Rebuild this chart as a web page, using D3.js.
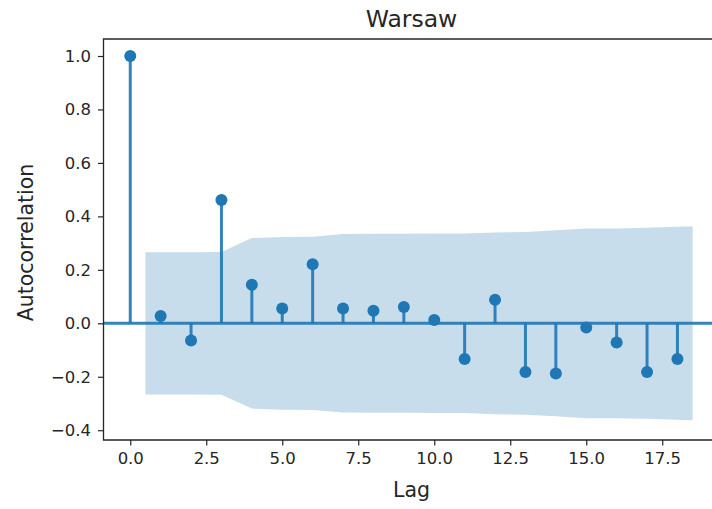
<!DOCTYPE html>
<html>
<head>
<meta charset="utf-8">
<script src="https://cdn.jsdelivr.net/npm/d3@7"></script>
<style>
  body { margin: 0; background: #fff; }
  svg { display: block; font-family: "DejaVu Sans", sans-serif; }
</style>
</head>
<body>
<svg id="chart" width="712" height="509"></svg>
<script>
// acf values per lag
var lags = [0, 1, 2, 3, 4, 5, 6, 7, 8, 9, 10, 11, 12, 13, 14, 15, 16, 17, 18];
var acfValues = [1.0, 0.027, -0.064, 0.461, 0.144, 0.055, 0.221, 0.055, 0.047, 0.061,
                 0.012, -0.134, 0.088, -0.182, -0.188, -0.016, -0.072, -0.182, -0.134];

// confidence band (x positions and upper edge, lower edge is mirrored)
var bandLags = [0.5, 2, 3, 4, 5, 6, 7, 8, 9, 10, 11, 12, 13, 14, 15, 16, 17, 18.5];
var bandUpper = [0.266, 0.266, 0.267, 0.319, 0.323, 0.324, 0.334, 0.335, 0.335, 0.336,
                 0.336, 0.340, 0.342, 0.348, 0.355, 0.355, 0.357, 0.363];
var bandLower = bandUpper.map(function(v) { return -v; });

var yTicks = [-0.4, -0.2, 0.0, 0.2, 0.4, 0.6, 0.8, 1.0];
var xTicks = [0, 2.5, 5, 7.5, 10, 12.5, 15, 17.5];

var blue = "#1f77b4";
var ink = "#262626";

var svg = d3.select("#chart");

// plot box (right edge falls outside the picture)
var plotLeft = 103.5, plotTop = 39, plotBottom = 440, plotRight = 720;

var x = d3.scaleLinear().domain([-0.88, 19.4]).range([plotLeft, plotRight]);
var y = d3.scaleLinear().domain([-0.4366, 1.0636]).range([plotBottom, plotTop]);

// band
var area = d3.area()
    .x(function(d, i) { return x(bandLags[i]); })
    .y0(function(d, i) { return y(bandLower[i]); })
    .y1(function(d, i) { return y(bandUpper[i]); });

svg.append("path")
    .datum(bandUpper)
    .attr("d", area)
    .attr("fill", blue)
    .attr("fill-opacity", 0.25);

// zero line
svg.append("line")
    .attr("x1", plotLeft).attr("x2", plotRight)
    .attr("y1", y(0)).attr("y2", y(0))
    .attr("stroke", blue)
    .attr("stroke-opacity", 0.9)
    .attr("stroke-width", 3);

// stems
svg.selectAll(".stem")
    .data(lags)
    .enter()
    .append("line")
    .attr("class", "stem")
    .attr("x1", function(d) { return x(d); })
    .attr("x2", function(d) { return x(d); })
    .attr("y1", y(0))
    .attr("y2", function(d, i) { return y(acfValues[i]); })
    .attr("stroke", blue)
    .attr("stroke-opacity", 0.9)
    .attr("stroke-width", 3);

// markers
svg.selectAll(".dot")
    .data(lags)
    .enter()
    .append("circle")
    .attr("class", "dot")
    .attr("cx", function(d) { return x(d); })
    .attr("cy", function(d, i) { return y(acfValues[i]); })
    .attr("r", 6)
    .attr("fill", blue);

// axes
var fmt = function(d) { return d3.format(".1f")(d).replace("-", "\u2212"); };

var yAxis = svg.append("g")
    .attr("transform", "translate(" + plotLeft + ",0)")
    .call(d3.axisLeft(y).tickValues(yTicks).tickFormat(fmt).tickSize(5.5).tickPadding(7));

var xAxis = svg.append("g")
    .attr("transform", "translate(0," + plotBottom + ")")
    .call(d3.axisBottom(x).tickValues(xTicks).tickFormat(fmt).tickSize(5.5).tickPadding(7));

[xAxis, yAxis].forEach(function(g) {
    g.select(".domain").remove();
    g.selectAll(".tick line").attr("stroke", ink).attr("stroke-width", 1.2);
    g.selectAll(".tick text")
        .attr("fill", ink)
        .style("font-size", "16.5px")
        .style("font-family", "DejaVu Sans");
});

// spines (left, bottom, top)
svg.append("path")
    .attr("d", "M" + plotRight + "," + plotTop + "H" + plotLeft + "V" + plotBottom + "H" + plotRight)
    .attr("fill", "none")
    .attr("stroke", ink)
    .attr("stroke-width", 1.3);

// labels
svg.append("text")
    .attr("x", 411.5).attr("y", 26.5)
    .attr("text-anchor", "middle")
    .attr("fill", ink)
    .style("font-size", "23.5px")
    .text("Warsaw");

svg.append("text")
    .attr("x", 411.5).attr("y", 496.5)
    .attr("text-anchor", "middle")
    .attr("fill", ink)
    .style("font-size", "20.5px")
    .text("Lag");

svg.append("text")
    .attr("transform", "translate(33,242.5) rotate(-90)")
    .attr("text-anchor", "middle")
    .attr("fill", ink)
    .style("font-size", "20.5px")
    .text("Autocorrelation");
</script>
</body>
</html>
